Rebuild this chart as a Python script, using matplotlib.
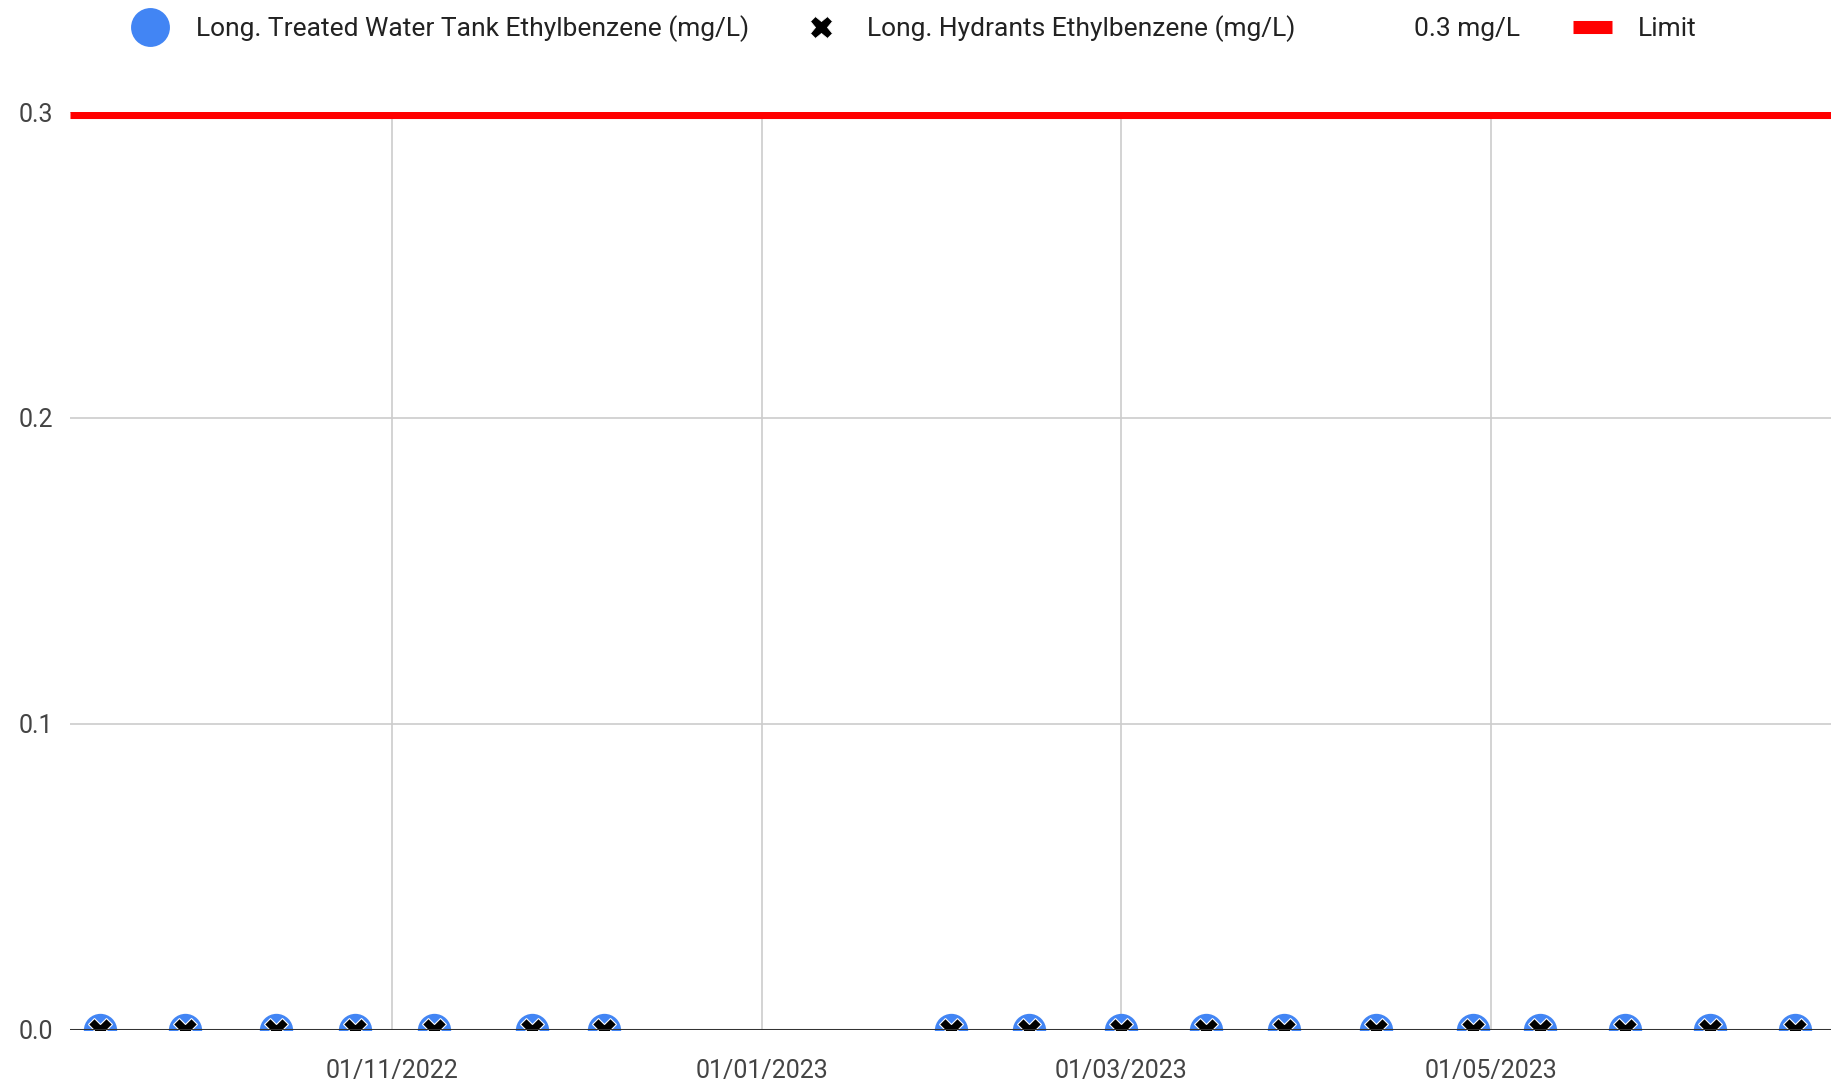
import datetime as dt
import matplotlib
matplotlib.use("Agg")
import matplotlib.pyplot as plt
import matplotlib.dates as mdates
from matplotlib.lines import Line2D

# sample dates (same for both series)
dates = ["2022-09-14", "2022-09-28", "2022-10-13", "2022-10-26", "2022-11-08",
         "2022-11-24", "2022-12-06", "2023-02-01", "2023-02-14", "2023-03-01",
         "2023-03-15", "2023-03-28", "2023-04-12", "2023-04-28", "2023-05-09",
         "2023-05-23", "2023-06-06", "2023-06-20"]
tank_vals = [0.0] * 18
hydrant_vals = [0.0] * 18
limit = 0.3
x_range = ["2022-09-09", "2023-06-26"]
y_ticks = [0.0, 0.1, 0.2, 0.3]

labels = ["Long. Treated Water Tank Ethylbenzene (mg/L)",
          "Long. Hydrants Ethylbenzene (mg/L)", "0.3 mg/L", "Limit"]

plt.rcParams["font.family"] = ["Roboto", "DejaVu Sans"]
fs_tick = 18
fs_leg = 19

d = [dt.datetime.strptime(s, "%Y-%m-%d") for s in dates]
xr = [dt.datetime.strptime(s, "%Y-%m-%d") for s in x_range]

blue = "#4285F4"
red = "#FF0000"

fig = plt.figure(figsize=(18.38, 10.86), dpi=100)
ax = fig.add_axes([70 / 1838, 56.5 / 1086, 1761 / 1838, 917.5 / 1086])

ax.axhline(limit, color=red, lw=9.4, zorder=3, solid_capstyle="butt")
ax.axhline(0, color="#333333", lw=2.2, zorder=6)
ax.plot(d, tank_vals, "o", ms=24, color=blue, mec="none", zorder=4)
ax.plot(d, hydrant_vals, "X", ms=17, color="black", mec="white", mew=0.8, zorder=5)

ax.set_xlim(xr)
ax.set_ylim(0, 0.3)
ax.set_yticks(y_ticks)
ax.set_yticklabels(["%.1f" % v for v in y_ticks])
ax.xaxis.set_major_locator(mdates.MonthLocator(bymonth=(1, 3, 5, 7, 9, 11)))
ax.xaxis.set_major_formatter(mdates.DateFormatter("%d/%m/%Y"))
ax.grid(True, color="#cccccc", lw=1.2, zorder=0)
ax.set_axisbelow(True)
for s in ax.spines.values():
    s.set_visible(False)
ax.tick_params(axis="both", length=0, labelsize=fs_tick, colors="#444444")
ax.tick_params(axis="y", pad=12)
ax.tick_params(axis="x", pad=21)

handles = [
    Line2D([], [], ls="none", marker="o", ms=28, color=blue, mec="none"),
    Line2D([], [], ls="none", marker="X", ms=16, color="black", mec="white", mew=0.6),
    Line2D([], [], color="none"),
    Line2D([], [], color=red, lw=9.4, solid_capstyle="butt"),
]
fig.legend(handles, labels, ncol=4, loc="center left",
           bbox_to_anchor=(130.5 / 1838, 1 - 29 / 1086), frameon=False,
           fontsize=fs_leg, labelcolor="#222222", handlelength=1.48,
           handletextpad=1.0, columnspacing=2.0, borderpad=0,
           borderaxespad=0)

fig.savefig("out.png", dpi=100)
